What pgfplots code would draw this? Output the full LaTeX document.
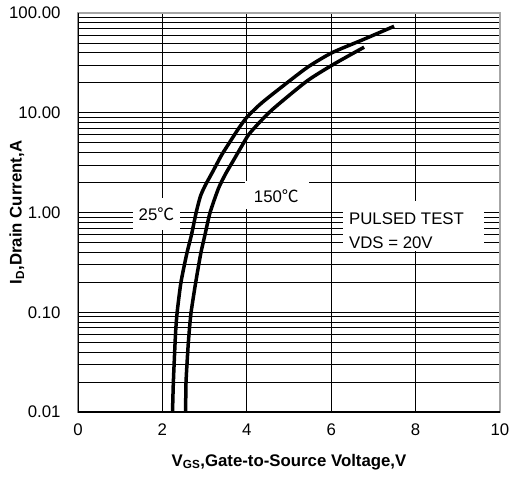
\documentclass[border=0pt]{standalone}
\usepackage{fontspec}
\setmainfont{Liberation Sans}
\newfontfamily\cjk{Noto Sans CJK SC}
\usepackage{pgfplots}
\pgfplotsset{compat=1.18}

% transfer curves, V_GS (V) vs I_D (A)
\pgfplotstableread{
v    id
2.24 0.01
2.26 0.02
2.31 0.06
2.35 0.10
2.44 0.20
2.58 0.39
2.69 0.60
2.80 1.00
2.90 1.45
3.01 1.85
3.20 2.60
3.40 3.75
3.60 5.10
3.80 6.90
4.00 9.0
4.30 12.0
4.63 15.6
5.42 28.2
6.01 39.8
6.76 54.2
7.49 73.6
}\tcold
\pgfplotstableread{
v    id
2.55 0.01
2.56 0.02
2.60 0.04
2.63 0.06
2.68 0.10
2.79 0.20
2.91 0.39
3.01 0.60
3.13 1.00
3.33 1.75
3.50 2.45
3.66 3.20
3.85 4.40
4.04 6.0
4.30 8.0
4.63 11.0
5.42 20.7
6.05 30.5
6.78 45.4
}\thot

\begin{document}
\begin{tikzpicture}
\begin{axis}[
    scale only axis,
    width=422pt, height=399pt,
    xmin=0, xmax=10,
    ymin=0.01, ymax=100,
    ymode=log,
    xtick={0,2,...,10},
    ytick={0.01,0.1,1,10,100},
    yticklabels={0.01,0.10,1.00,10.00,100.00},
    xmajorgrids, ymajorgrids, yminorgrids,
    major grid style={black, line width=0.8pt},
    minor grid style={black, line width=0.8pt},
    major tick length=0pt, minor tick length=0pt,
    axis line style={gray!70, line width=1.4pt},
    /pgf/number format/assume math mode=true,
    ticklabel style={font=\fontsize{16.8}{19}\selectfont},
    xticklabel style={yshift=-8pt},
    yticklabel style={xshift=-14pt},
    xlabel={\textbf{V\textsubscript{GS},Gate-to-Source Voltage,V}},
    ylabel={\textbf{I\textsubscript{D},Drain Current,A}},
    every axis x label/.style={at={(axis description cs:0.5,-0.125)}, anchor=center,
        font=\fontsize{16.8}{19}\selectfont},
    every axis y label/.style={at={(axis description cs:-0.145,0.5)}, anchor=center, rotate=90,
        font=\fontsize{16.8}{19}\selectfont},
]
% white boxes behind the annotations
\fill[white] (axis cs:1.30,0.67) rectangle (axis cs:2.42,1.40);
\fill[white] (axis cs:3.96,1.09) rectangle (axis cs:5.47,2.05);
\fill[white] (axis cs:6.28,0.414) rectangle (axis cs:9.62,1.31);

\addplot[black, line width=3.5pt, smooth, tension=0.4] table[x=v, y=id] {\tcold};
\addplot[black, line width=3.5pt, smooth, tension=0.4] table[x=v, y=id] {\thot};

\node[font=\fontsize{16.8}{19}\selectfont] at (axis cs:1.86,0.97) {25{\cjk ℃}};
\node[font=\fontsize{16.8}{19}\selectfont] at (axis cs:4.70,1.47) {150{\cjk ℃}};
\node[font=\fontsize{16.8}{24}\selectfont, align=left, anchor=west, inner sep=0pt]
    at (axis cs:6.42,0.656) {PULSED TEST\\VDS = 20V};

\draw[black, line width=1.2pt] (rel axis cs:0,1) -- (rel axis cs:0,0) -- (rel axis cs:1,0);
\coordinate (bl) at (rel axis cs:0,0);
\coordinate (tr) at (rel axis cs:1,1);
\end{axis}
\pgfresetboundingbox
\path[use as bounding box] ([shift={(-78pt,-67pt)}]bl) rectangle ([shift={(12pt,13pt)}]tr);
\end{tikzpicture}
\end{document}
